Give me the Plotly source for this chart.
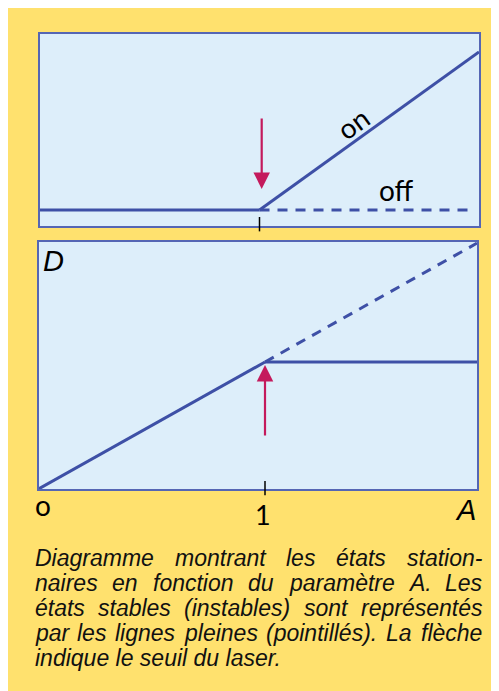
import plotly.graph_objects as go

# --- top panel: laser output vs pump parameter A ---
a_below = [0, 1]
out_below = [0, 0]
a_on = [1, 2]
out_on = [0, 1]
a_off = [1, 1.96]
out_off = [0, 0]

# --- bottom panel: inversion D vs A ---
a_rise = [0, 1]
d_rise = [0, 1]
a_flat = [1, 1.936]
d_flat = [1, 1]
a_unstable = [1, 1.936]
d_unstable = [1, 1.936]

threshold = 1
top_arrow = (1.01, 0.589, 0.133)     # x, tail y, tip y
bottom_arrow = (1.0, 0.41, 0.976)

caption_lines = [
    "Diagramme montrant les états station-",
    "naires en fonction du paramètre A. Les",
    "états stables (instables) sont représentés",
    "par les lignes pleines (pointillés). La flèche",
    "indique le seuil du laser.",
]

# the page body adds an 8px margin, so the figure itself starts at (8, 8)
OFF = 8
W, H = 499 - OFF, 691
YELLOW = "#FFE16E"
PANEL = "#DDEEFA"
BLUE = "#3E50A6"
FRAME = "#5566B4"
RED = "#C41A5C"
DASH = "10px,8px"


def px(x):
    return (x - OFF) / W


def py(y):
    return 1 - (y - OFF) / H


fig = go.Figure()

solid = dict(color=BLUE, width=3)
dashed = dict(color=BLUE, width=3, dash=DASH)

fig.add_trace(go.Scatter(x=a_below, y=out_below, mode="lines", line=solid, xaxis="x", yaxis="y"))
fig.add_trace(go.Scatter(x=a_on, y=out_on, mode="lines", line=solid, xaxis="x", yaxis="y"))
fig.add_trace(go.Scatter(x=a_off, y=out_off, mode="lines", line=dashed, xaxis="x", yaxis="y"))

fig.add_trace(go.Scatter(x=a_rise, y=d_rise, mode="lines", line=solid, xaxis="x2", yaxis="y2"))
fig.add_trace(go.Scatter(x=a_flat, y=d_flat, mode="lines", line=solid, xaxis="x2", yaxis="y2"))
fig.add_trace(go.Scatter(x=a_unstable, y=d_unstable, mode="lines", line=dashed, xaxis="x2", yaxis="y2"))

ax_common = dict(showgrid=False, zeroline=False, showticklabels=False, ticks="",
                 showline=True, mirror=True, linecolor=FRAME, linewidth=1.5, fixedrange=True)

shapes = [
    # threshold ticks crossing the lower frame edges
    dict(type="line", xref="x", yref="y domain", x0=threshold, x1=threshold, y0=-0.028, y1=0.047,
         line=dict(color="black", width=1.5)),
    dict(type="line", xref="x2", yref="y2 domain", x0=threshold, x1=threshold, y0=-0.025, y1=0.032,
         line=dict(color="black", width=1.5)),
]

label_font = dict(family="Lato, Open Sans, sans-serif", size=28, color="black")
ital_font = dict(family="Liberation Sans, Arial, sans-serif", size=29, color="black")


def paper_text(x, y, text, font, **kw):
    return dict(x=px(x), y=py(y), xref="paper", yref="paper", text=text, showarrow=False,
                xanchor=kw.pop("xanchor", "center"), yanchor="middle", font=font, **kw)


annotations = [
    dict(x=top_arrow[0], y=top_arrow[2], ax=top_arrow[0], ay=top_arrow[1], xref="x", yref="y",
         axref="x", ayref="y", text="", showarrow=True, arrowhead=2, arrowsize=1.5,
         arrowwidth=2.2, arrowcolor=RED),
    dict(x=bottom_arrow[0], y=bottom_arrow[2], ax=bottom_arrow[0], ay=bottom_arrow[1], xref="x2",
         yref="y2", axref="x2", ayref="y2", text="", showarrow=True, arrowhead=2, arrowsize=1.5,
         arrowwidth=2.2, arrowcolor=RED),
    dict(x=1.426, y=0.551, xref="x", yref="y", text="on", showarrow=False, textangle=-36,
         xanchor="center", yanchor="middle", font=label_font),
    dict(x=1.622, y=0.127, xref="x", yref="y", text="off", showarrow=False,
         xanchor="center", yanchor="middle", font=label_font),
    paper_text(53, 261, "<i>D</i>", ital_font),
    paper_text(465, 510, "<i>A</i>", ital_font),
    paper_text(43, 505, "o", label_font),
    paper_text(263, 515, "1", dict(label_font, size=27)),
]

# Arial / Liberation Sans advance widths (1/1000 em) for justifying the caption
ARIAL = {" ": 278, "a": 556, "b": 556, "c": 500, "d": 556, "e": 556, "f": 278, "g": 556,
         "h": 556, "i": 222, "j": 222, "k": 500, "l": 222, "m": 833, "n": 556, "o": 556,
         "p": 556, "q": 556, "r": 333, "s": 500, "t": 278, "u": 556, "v": 500, "w": 722,
         "x": 500, "y": 500, "z": 500, "A": 667, "D": 722, "L": 556, "(": 333, ")": 333,
         ".": 278, "-": 333, "é": 556, "è": 556}
CAP_SIZE = 23
CAP_LEFT, CAP_RIGHT = 33, 480
CAP_TOP, CAP_STEP = 558, 25


def text_w(s):
    return sum(ARIAL.get(c, 556) for c in s) * CAP_SIZE / 1000


cap_font = dict(family="Liberation Sans, Arial, sans-serif", size=CAP_SIZE, color="#111111")
for i, line in enumerate(caption_lines):
    y = CAP_TOP + i * CAP_STEP
    words = line.split(" ")
    if i == len(caption_lines) - 1:
        annotations.append(paper_text(CAP_LEFT, y, "<i>" + line + "</i>", cap_font, xanchor="left"))
        continue
    widths = [text_w(w) for w in words]
    gap = (CAP_RIGHT - CAP_LEFT - sum(widths)) / (len(words) - 1)
    x = CAP_LEFT
    for w, wd in zip(words, widths):
        annotations.append(paper_text(x, y, "<i>" + w + "</i>", cap_font, xanchor="left"))
        x += wd + gap

fig.update_layout(
    width=W, height=H,
    margin=dict(l=0, r=0, t=0, b=0),
    paper_bgcolor=YELLOW,
    plot_bgcolor=PANEL,
    showlegend=False,
    xaxis=dict(ax_common, domain=[px(40), px(479)], range=[0, 2], anchor="y"),
    yaxis=dict(ax_common, domain=[py(226), py(34)], range=[-0.101, 1.114], anchor="x"),
    xaxis2=dict(ax_common, domain=[px(38.5), px(477)], range=[0, 1.936], anchor="y2"),
    yaxis2=dict(ax_common, domain=[py(489), py(242)], range=[0, 1.945], anchor="x2"),
    shapes=shapes,
    annotations=annotations,
)

fig.write_html("out.html")
